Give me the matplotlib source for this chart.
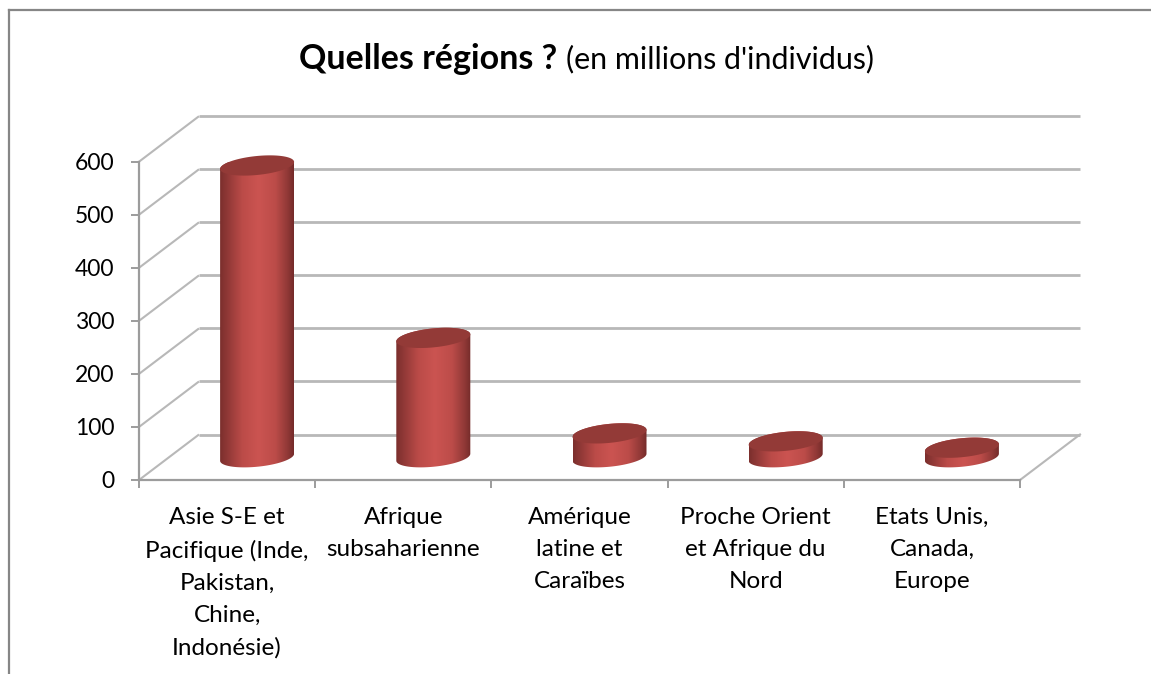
import matplotlib
matplotlib.use("Agg")

import matplotlib.pyplot as plt
import numpy as np
from matplotlib.colors import LinearSegmentedColormap
from matplotlib.patches import Polygon

# Values
regions = [
    "Asie S-E et\nPacifique (Inde,\nPakistan,\nChine,\nIndonésie)",
    "Afrique\nsubsaharienne",
    "Amérique\nlatine et\nCaraïbes",
    "Proche Orient\net Afrique du\nNord",
    "Etats Unis,\nCanada,\nEurope",
]
people = [550, 225, 45, 30, 18]
y_ticks = [0, 100, 200, 300, 400, 500, 600]

# Figure size and the oblique "3D" look, in pixels
W, H = 1151, 674
LEFT, RIGHT = 139, 1020
Y0_PX, Y600_PX = 480, 161.7
DEPTH_X_PX, DEPTH_Y_PX = 60, 45.5

GRID = "#b8b8b8"
AXIS = "#9c9c9c"
FRAME = "#868686"
TEXT = "#000000"
CAP = "#933a37"

plt.rcParams["font.family"] = ["Lato", "DejaVu Sans"]

fig = plt.figure(figsize=(W / 100, H / 100), dpi=100)

# Frame of the chart, only top and left are in the crop
fig.add_artist(plt.Line2D([9 / W, 1], [1 - 10 / H, 1 - 10 / H], color=FRAME, lw=1.6))
fig.add_artist(plt.Line2D([9 / W, 9 / W], [0, 1 - 10 / H], color=FRAME, lw=1.6))

ax = fig.add_axes(
    [LEFT / W, 1 - Y0_PX / H, (RIGHT - LEFT) / W, (Y0_PX - Y600_PX) / H]
)
ax.set_xlim(-0.5, len(regions) - 0.5)
ax.set_ylim(0, 600)
ax.patch.set_alpha(0)

# Pixel sizes converted to data units
px_x = (len(regions)) / (RIGHT - LEFT)
px_y = 600 / (Y0_PX - Y600_PX)
depth_x = DEPTH_X_PX * px_x
depth_y = DEPTH_Y_PX * px_y

# Back wall grid lines and the slanted lines on the side wall
for v in y_ticks:
    ax.plot(
        [-0.5 + depth_x, 4.5 + depth_x],
        [v + depth_y, v + depth_y],
        color=GRID, lw=2.0, clip_on=False, zorder=1,
        solid_capstyle="butt",
    )
    ax.plot(
        [-0.5, -0.5 + depth_x],
        [v, v + depth_y],
        color=GRID, lw=1.5, clip_on=False, zorder=1,
        solid_capstyle="butt",
    )

# Floor
ax.plot(
    [4.5, 4.5 + depth_x],
    [0, depth_y],
    color=GRID, lw=1.5, clip_on=False, zorder=1,
)

cmap = LinearSegmentedColormap.from_list(
    "cyl",
    [
        (0.0, "#7b2f2d"),
        (0.12, "#943a38"),
        (0.3, "#bb4b48"),
        (0.52, "#cb5451"),
        (0.75, "#bc4c49"),
        (0.92, "#8f3836"),
        (1.0, "#742b2a"),
    ],
)
shade = np.linspace(0, 1, 256).reshape(1, -1)

half_w = 37 * px_x
half_h = 9.5 * px_y
tilt = 3.5 * px_y  # right side of each ellipse sits this much higher
t = np.linspace(0, 2 * np.pi, 121)


def ellipse(cx, cy):
    x = cx + half_w * np.cos(t)
    y = cy + half_h * np.sin(t) + tilt * np.cos(t)
    return x, y


for i, value in enumerate(people):
    cx = i + depth_x / 2
    base = depth_y / 2

    xb, yb = ellipse(cx, base)
    xt, yt = ellipse(cx, base + value)

    lower = t >= np.pi
    order = np.argsort(xb[lower])
    upper_t = t <= np.pi
    order_t = np.argsort(xt[upper_t])[::-1]
    body = np.column_stack(
        [
            np.r_[xb[lower][order], xt[upper_t][order_t]],
            np.r_[yb[lower][order], yt[upper_t][order_t]],
        ]
    )
    clip = Polygon(body, closed=True, transform=ax.transData, fc="none", ec="none")
    ax.add_patch(clip)

    im = ax.imshow(
        shade,
        cmap=cmap,
        aspect="auto",
        extent=(cx - half_w, cx + half_w, base - 30, base + value + 30),
        zorder=3,
    )
    im.set_clip_path(clip)
    ax.fill(xt, yt, color=CAP, lw=0, zorder=4, clip_on=False)

ax.set_xlim(-0.5, len(regions) - 0.5)
ax.set_ylim(0, 600)

for side in ["top", "right"]:
    ax.spines[side].set_visible(False)
for side in ["left", "bottom"]:
    ax.spines[side].set_color(AXIS)
    ax.spines[side].set_linewidth(1.6)

ax.set_yticks(y_ticks)
ax.set_xticks(np.arange(-0.5, len(regions)))
ax.set_xticklabels([])
ax.tick_params(axis="both", color=AXIS, width=1.4, length=5.5)
ax.tick_params(axis="y", labelsize=16.5, labelcolor=TEXT, pad=12)

for i, label in enumerate(regions):
    ax.annotate(
        label, xy=(i, 0), xycoords=("data", "axes fraction"),
        xytext=(0, -19.5), textcoords="offset points",
        ha="center", va="top", fontsize=17.5, color=TEXT, linespacing=1.65,
    )

# Title: bold part then the unit in regular weight
fig.text(299 / W, 1 - 59 / H, "Quelles régions ?", fontsize=24.5, fontweight="bold",
         color=TEXT, ha="left", va="center")
fig.text(566 / W, 1 - 59 / H, "(en millions d'individus)", fontsize=21.9,
         color=TEXT, ha="left", va="center")

fig.savefig("out.png", dpi=100)
